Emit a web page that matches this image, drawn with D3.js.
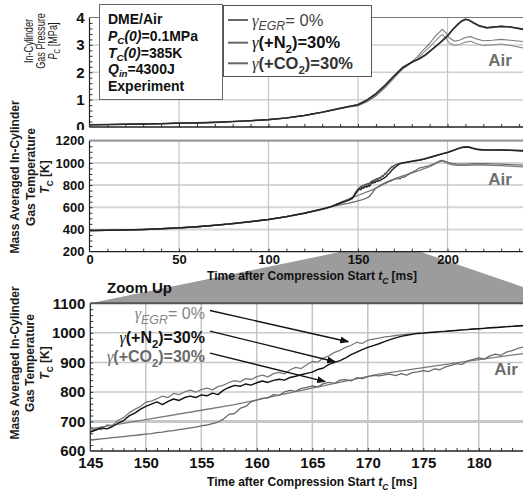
<!DOCTYPE html>
<html>
<head>
<meta charset="utf-8">
<script src="https://cdn.jsdelivr.net/npm/d3@7"></script>
<style>
  body { margin: 0; background: #fff; }
  svg { display: block; }
  text { font-family: "Liberation Sans", Arial, Helvetica, sans-serif; }
</style>
</head>
<body>
<svg id="chart" width="523" height="491"></svg>
<script>
// ---------------------------------------------------------------
// Data: in-cylinder pressure [MPa] and mass-averaged temperature [K]
// versus time after compression start [ms], DME/Air, three EGR cases
// plus the plain-air reference.
// ---------------------------------------------------------------

// Pressure, shared compression part (all cases coincide)
const pressureCommon = [[0,0.08],[10,0.09],[20,0.10],[30,0.11],[40,0.12],[50,0.14],[60,0.15],[70,0.17],
  [80,0.20],[90,0.23],[100,0.27],[110,0.33],[120,0.42],[130,0.54],[140,0.68]];
const pressureEgr0 = [[145,0.75],[150,0.82],[155,0.99],[160,1.22],[165,1.52],[170,1.86],[175,2.18],[180,2.36],
  [184,2.48],[188,2.64],[192,2.86],[196,3.08],[200,3.32],[203,3.56],[206,3.76],[208,3.87],[210,3.93],[212,3.90],
  [215,3.78],[218,3.68],[222,3.62],[226,3.65],[230,3.67],[235,3.65],[243,3.55]];
const pressureN2 = [[145,0.75],[150,0.81],[155,0.98],[160,1.21],[165,1.51],[170,1.85],[175,2.17],[180,2.37],
  [184,2.49],[188,2.66],[192,2.88],[196,3.10],[200,3.34],[203,3.57],[206,3.77],[208,3.88],[210,3.94],[212,3.91],
  [215,3.80],[218,3.70],[222,3.63],[226,3.66],[230,3.68],[235,3.66],[243,3.57]];
const pressureCO2 = [[145,0.74],[150,0.79],[155,0.93],[160,1.15],[165,1.45],[170,1.80],[175,2.14],[179,2.32],
  [183,2.55],[186,2.78],[190,3.05],[193,3.30],[197,3.57],[199,3.45],[201,3.25],[204,3.13],[207,3.18],[210,3.27],
  [213,3.30],[216,3.22],[220,3.15],[225,3.17],[230,3.20],[235,3.17],[243,3.12]];
const pressureAir = [[145,0.73],[150,0.78],[155,0.92],[160,1.13],[165,1.43],[170,1.78],[175,2.12],[179,2.30],
  [183,2.48],[186,2.68],[190,2.93],[193,3.13],[197,3.38],[199,3.25],[201,3.07],[204,2.98],[207,3.02],[210,3.10],
  [213,3.13],[216,3.05],[220,2.98],[225,3.00],[230,3.03],[235,2.98],[243,2.88]];

// Temperature, shared compression part
const tempCommon = [[0,390],[10,392],[20,395],[30,399],[40,406],[50,414],[60,424],[70,437],[80,452],
  [90,470],[100,490],[110,515],[120,546],[130,583],[135,605]];

// Temperature around ignition, fine resolution (140 ... 184 ms)
const zoomTimes = [140,
  145,145.5,146,146.5,147,147.5,148,148.5,149,149.5,
  150,150.5,151,151.5,152,152.5,153,153.5,154,154.5,
  155,155.5,156,156.5,157,157.5,158,158.5,159,159.5,
  160,160.5,161,161.5,162,162.5,163,163.5,164,164.5,
  165,165.5,166,166.5,167,167.5,168,168.5,169,169.5,
  170,170.5,171,171.5,172,172.5,173,173.5,174,174.5,
  175,175.5,176,176.5,177,177.5,178,178.5,179,179.5,
  180,180.5,181,181.5,182,182.5,183,183.5,184];
const zoomEgr0 = [638,
  668,675,672,688,686,704,713,729,741,750,
  765,769,777,786,781,795,791,800,806,799,
  808,813,807,818,823,832,838,834,845,842,
  852,857,851,862,866,861,875,883,879,892,
  903,901,915,922,934,941,951,958,968,964,
  975,979,982,986,988,991,993,995,997,999,
  1000,1001,1003,1004,1006,1007,1009,1010,1012,1013,
  1014,1016,1017,1018,1020,1021,1022,1024,1025];
const zoomN2 = [636,
  664,671,678,675,683,694,703,719,728,741,
  751,759,766,757,768,776,771,781,786,781,
  790,787,796,791,806,815,822,819,827,823,
  831,837,832,839,843,840,849,853,858,863,
  867,876,881,893,900,906,915,926,935,943,
  951,957,963,970,977,983,988,992,995,998,
  999,1001,1002,1004,1005,1007,1008,1010,1011,1013,
  1014,1015,1017,1018,1019,1021,1022,1023,1024];
const zoomCO2 = [621,
  637,639,641,643,645,647,649,651,653,655,
  657,659,662,664,667,669,672,675,678,681,
  685,688,693,698,708,724,727,744,751,767,
  772,778,780,791,788,800,805,802,812,815,
  820,817,828,832,829,840,842,837,848,845,
  852,856,854,858,860,855,862,857,865,868,
  872,869,878,875,885,890,896,893,905,910,
  915,911,922,928,924,935,940,947,952];
// Plain air reference is smooth: sparse points suffice
const zoomAir = [[140,643],[145,675],[150,706],[155,738],[158,757],[160,773],[165,813],[171,860],
  [175,882],[180,909],[184,930]];

// Temperature after the zoomed window
const tempLateEgr0 = [[184,1025],[187,1036],[190,1050],[193,1064],[196,1078],[200,1095],[203,1112],[206,1130],
  [208,1140],[210,1146],[212,1143],[214,1133],[217,1122],[220,1119],[225,1118],[230,1119],[235,1116],[243,1110]];
const tempLateN2 = [[184,1024],[187,1034],[190,1048],[193,1062],[196,1077],[200,1093],[203,1110],[206,1128],
  [208,1138],[210,1143],[212,1141],[214,1131],[217,1120],[220,1116],[225,1115],[230,1116],[235,1113],[243,1107]];
const tempLateCO2 = [[184,952],[187,963],[190,976],[193,996],[196,1020],[197,1022],[199,1012],[202,996],
  [205,990],[210,989],[215,992],[220,994],[225,991],[230,989],[235,985],[243,980]];
const tempLateAir = [[184,930],[187,948],[190,967],[193,990],[196,1014],[197,1017],[199,1004],[202,985],
  [205,978],[210,977],[215,979],[220,981],[225,978],[230,975],[235,971],[243,964]];

// Axis ticks
const timeTicksFull = [0, 50, 100, 150, 200];
const timeTicksZoom = [145, 150, 155, 160, 165, 170, 175, 180];
const pressureTicks = [0, 1, 2, 3, 4];
const tempTicksFull = [200, 400, 600, 800, 1000, 1200];
const tempTicksZoom = [600, 700, 800, 900, 1000, 1100];
const zoomWindow = [141, 184.5];

// ---------------------------------------------------------------
const svg = d3.select("#chart");
const SERIF = '"Liberation Serif", "Times New Roman", serif';

const pairs = (ts, vs) => ts.map((t, i) => [t, vs[i]]);
const tempZoom = {
  egr0: pairs(zoomTimes, zoomEgr0),
  n2: pairs(zoomTimes, zoomN2),
  co2: pairs(zoomTimes, zoomCO2),
  air: zoomAir
};
const tempFull = {
  egr0: tempCommon.concat(tempZoom.egr0, tempLateEgr0.slice(1)),
  n2: tempCommon.concat(tempZoom.n2, tempLateN2.slice(1)),
  co2: tempCommon.concat(tempZoom.co2, tempLateCO2.slice(1)),
  air: tempCommon.concat(tempZoom.air, tempLateAir.slice(1))
};
const pressure = {
  egr0: pressureCommon.concat(pressureEgr0),
  n2: pressureCommon.concat(pressureN2),
  co2: pressureCommon.concat(pressureCO2),
  air: pressureCommon.concat(pressureAir)
};

// Scales
const xFull = d3.scaleLinear().domain([0, 243]).range([89.5, 524.5]);
const yP = d3.scaleLinear().domain([0, 4]).range([127, 17.5]);
const yT = d3.scaleLinear().domain([200, 1200]).range([251.6, 140.7]);
const xZ = d3.scaleLinear().domain([145, 184]).range([90.3, 523.2]);
const yZ = d3.scaleLinear().domain([600, 1100]).range([451, 303.3]);

// Rich text helper: parts = [{t, it, serif, sub, w}]
function rich(sel, parts, size, subShift) {
  let shift = 0;
  parts.forEach(p => {
    const ts = sel.append("tspan").text(p.t);
    const target = p.sub ? size * (subShift || 0.3) : 0;
    if (target !== shift) ts.attr("dy", target - shift);
    shift = target;
    if (p.sub) ts.attr("font-size", size * (p.subScale || 0.7));
    if (p.it) ts.attr("font-style", "italic");
    if (p.serif) ts.attr("font-family", SERIF).attr("font-weight", "normal");
    if (p.w) ts.attr("font-weight", p.w);
  });
  return sel;
}

// Generic panel frame: grid, axes, minor ticks
function frame(opt) {
  const g = svg.append("g");
  const [x0, x1] = opt.x.range();
  const [yb, yt] = opt.y.range();
  g.append("rect").attr("x", x0).attr("y", yt).attr("width", x1 - x0).attr("height", yb - yt).attr("fill", "#fff");
  // horizontal grid
  g.selectAll(".hg").data(opt.yTicks.slice(1, -1)).join("line")
    .attr("x1", x0).attr("x2", x1).attr("y1", d => opt.y(d)).attr("y2", d => opt.y(d))
    .attr("stroke", opt.hgColor || "#cfcfcf").attr("stroke-width", d => (opt.hgWidth ? opt.hgWidth(d) : 1.5));
  // vertical grid
  g.selectAll(".vg").data(opt.xGrid).join("line")
    .attr("x1", d => opt.x(d)).attr("x2", d => opt.x(d)).attr("y1", yt).attr("y2", yb)
    .attr("stroke", "#c4c4c4").attr("stroke-width", opt.vgWidth || 1.2);
  // top border
  g.append("line").attr("x1", x0).attr("x2", x1).attr("y1", yt).attr("y2", yt)
    .attr("stroke", opt.topColor || "#888").attr("stroke-width", opt.topWidth || 1.2);
  // minor ticks along bottom
  g.append("g").attr("transform", `translate(0,${yb})`)
    .call(d3.axisBottom(opt.x).tickValues(opt.xMinor).tickSize(-3).tickFormat(""))
    .call(s => s.select(".domain").remove())
    .selectAll("line").attr("stroke", "#333");
  // minor ticks along left
  g.append("g").attr("transform", `translate(${x0},0)`)
    .call(d3.axisLeft(opt.y).tickValues(opt.yMinor).tickSize(-3).tickFormat(""))
    .call(s => s.select(".domain").remove())
    .selectAll("line").attr("stroke", "#333");
  // axis lines
  g.append("line").attr("x1", x0).attr("x2", x0).attr("y1", yt).attr("y2", yb).attr("stroke", "#222").attr("stroke-width", 1.2);
  g.append("line").attr("x1", x0).attr("x2", x1).attr("y1", yb).attr("y2", yb).attr("stroke", "#222").attr("stroke-width", 1.4);
  // y tick labels
  const yl = g.append("g").attr("transform", `translate(${x0},0)`);
  if (opt.labelClip) yl.attr("clip-path", opt.labelClip);
  yl.call(d3.axisLeft(opt.y).tickValues(opt.yTicks).tickSize(0).tickPadding(opt.yPad || 5).tickFormat(d3.format("d")))
    .call(s => s.select(".domain").remove())
    .selectAll("text").attr("font-family", '"Liberation Sans", Arial, sans-serif')
    .attr("font-weight", "bold").attr("font-size", opt.yFont).attr("fill", "#111");
  // x tick labels
  if (opt.xTicks) {
    g.append("g").attr("transform", `translate(0,${yb})`)
      .call(d3.axisBottom(opt.x).tickValues(opt.xTicks).tickSize(0).tickPadding(opt.xPad || 4).tickFormat(d3.format("d")))
      .call(s => s.select(".domain").remove())
      .selectAll("text").attr("font-family", '"Liberation Sans", Arial, sans-serif')
      .attr("font-weight", "bold").attr("font-size", opt.xFont).attr("fill", "#111");
  }
  return g;
}

function clipFor(id, x, y) {
  const [x0, x1] = x.range(), [yb, yt] = y.range();
  svg.append("clipPath").attr("id", id).append("rect")
    .attr("x", x0).attr("y", yt - 1).attr("width", x1 - x0).attr("height", yb - yt + 1);
  return `url(#${id})`;
}

function drawLines(x, y, data, styles, clip) {
  const line = d3.line().x(d => x(d[0])).y(d => y(d[1]));
  const g = svg.append("g").attr("clip-path", clip);
  styles.forEach(s => {
    g.append("path").datum(data[s.key]).attr("d", line)
      .attr("fill", "none").attr("stroke", s.color).attr("stroke-width", s.width)
      .attr("stroke-linejoin", "round");
  });
}

function yTitle(cy, lines, size, weight, squeeze) {
  lines.forEach(l => {
    const t = svg.append("text")
      .attr("transform", `translate(${l.x},${cy}) rotate(-90) scale(${squeeze || 1},1)`)
      .attr("text-anchor", "middle").attr("dy", "0.35em")
      .attr("font-size", size).attr("font-weight", weight).attr("fill", "#1a1a1a");
    rich(t, l.parts, size);
  });
}

// ---------------- Top panel: pressure ----------------
// the "0" label of the pressure axis is tucked under the panel below
svg.append("clipPath").attr("id", "clipPLabels").append("rect")
  .attr("x", -100).attr("y", 0).attr("width", 200).attr("height", 130);
frame({
  x: xFull, y: yP, yTicks: pressureTicks, xGrid: [50, 100, 150, 200],
  xMinor: d3.range(10, 243, 10), yMinor: d3.range(0.2, 4, 0.2),
  yFont: 15, topColor: "#777", topWidth: 1, labelClip: "url(#clipPLabels)"
});
drawLines(xFull, yP, pressure, [
  { key: "air", color: "#8a8a8a", width: 1.1 },
  { key: "co2", color: "#7a7a7a", width: 1.1 },
  { key: "egr0", color: "#4a4a4a", width: 1.6 },
  { key: "n2", color: "#2a2a2a", width: 1.3 }
], clipFor("clipP", xFull, yP));

// ---------------- Middle panel: temperature ----------------
// zoom-up wedge (drawn under the middle panel axis labels)
const wedge = [
  [xFull(zoomWindow[0]), yT(200)], [xFull(zoomWindow[1]), yT(200)],
  [571, yZ(1100)], [xZ(145), yZ(1100)]
];
svg.append("path").attr("d", "M" + wedge.map(p => p.join(",")).join("L") + "Z").attr("fill", "#9c9c9c");

frame({
  x: xFull, y: yT, yTicks: tempTicksFull, xTicks: timeTicksFull, xGrid: [50, 100, 150, 200],
  xMinor: d3.range(10, 243, 10), yMinor: d3.range(250, 1200, 50),
  yFont: 13, xFont: 13, xPad: 3, topColor: "#9a9a9a", topWidth: 2.2, hgColor: "#d6d6d6", hgWidth: () => 2
});
drawLines(xFull, yT, tempFull, [
  { key: "air", color: "#7c7c7c", width: 1.3 },
  { key: "co2", color: "#6c6c6c", width: 1.3 },
  { key: "egr0", color: "#555", width: 1.6 },
  { key: "n2", color: "#222", width: 1.4 }
], clipFor("clipT", xFull, yT));

// x title (middle)
rich(svg.append("text").attr("x", 312).attr("y", 280).attr("text-anchor", "middle")
  .attr("font-size", 12).attr("font-weight", "bold").attr("fill", "#111"),
  [{ t: "Time after Compression Start " }, { t: "t", it: true }, { t: "C", sub: true, it: true }, { t: " [ms]" }], 12);

svg.append("text").attr("x", 107).attr("y", 293).attr("font-size", 15).attr("font-weight", "bold")
  .attr("fill", "#111").text("Zoom Up");

// ---------------- Bottom panel: zoomed temperature ----------------
frame({
  x: xZ, y: yZ, yTicks: tempTicksZoom, xTicks: timeTicksZoom, xGrid: [150, 155, 160, 165, 170, 175, 180],
  xMinor: d3.range(146, 185, 1), yMinor: d3.range(620, 1100, 20),
  yFont: 15, xFont: 15, xPad: 6.5, topColor: "#555", topWidth: 2, vgWidth: 1.5,
  hgColor: "#c8c8c8", hgWidth: d => (d === 700 ? 3 : 1.5)
});
drawLines(xZ, yZ, tempZoom, [
  { key: "air", color: "#7a7a7a", width: 1.3 },
  { key: "co2", color: "#6a6a6a", width: 1.3 },
  { key: "egr0", color: "#7a7a7a", width: 1.3 },
  { key: "n2", color: "#111", width: 1.4 }
], clipFor("clipZ", xZ, yZ));

rich(svg.append("text").attr("x", 312).attr("y", 486).attr("text-anchor", "middle")
  .attr("font-size", 12).attr("font-weight", "bold").attr("fill", "#111"),
  [{ t: "Time after Compression Start " }, { t: "t", it: true }, { t: "C", sub: true, it: true }, { t: " [ms]" }], 12);

// Annotations with arrows
svg.append("defs").append("marker").attr("id", "arrow").attr("markerUnits", "userSpaceOnUse")
  .attr("markerWidth", 9).attr("markerHeight", 7).attr("refX", 8).attr("refY", 3.5).attr("orient", "auto")
  .append("path").attr("d", "M0,0L9,3.5L0,7Z").attr("fill", "#111");

const notes = [
  { at: [155.33, 1046.8], from: [155.78, 1075.6], to: [168.24, 970], color: "#858585",
    parts: [{ t: "γ", serif: true, it: true }, { t: "EGR", sub: true, it: true, w: "normal", subScale: 0.78 }, { t: "= 0%", w: "normal" }] },
  { at: [155.33, 966.4], from: [155.78, 1006], to: [167.05, 902], color: "#111",
    parts: [{ t: "γ", serif: true, it: true }, { t: "(+N" }, { t: "2", sub: true }, { t: ")=30%" }] },
  { at: [155.33, 902], from: [155.78, 931.5], to: [166.15, 835], color: "#6a6a6a",
    parts: [{ t: "γ", serif: true, it: true }, { t: "(+CO" }, { t: "2", sub: true }, { t: ")=30%" }] }
];
notes.forEach(n => {
  rich(svg.append("text").attr("x", xZ(n.at[0])).attr("y", yZ(n.at[1])).attr("text-anchor", "end")
    .attr("font-size", 16).attr("font-weight", "bold").attr("fill", n.color), n.parts, 16);
  svg.append("line").attr("x1", xZ(n.from[0])).attr("y1", yZ(n.from[1]))
    .attr("x2", xZ(n.to[0])).attr("y2", yZ(n.to[1]))
    .attr("stroke", "#111").attr("stroke-width", 1.4).attr("marker-end", "url(#arrow)");
});

// "Air" labels
[[xFull, yP, 229.3, 2.23], [xFull, yT, 229.3, 800], [xZ, yZ, 182.45, 857]].forEach(([x, y, t, v]) => {
  svg.append("text").attr("x", x(t)).attr("y", y(v)).attr("text-anchor", "middle")
    .attr("font-size", 17).attr("fill", "#6e6e6e").attr("font-weight", "bold").text("Air");
});

// Y titles
yTitle(41, [
  { x: 28, parts: [{ t: "In-Cylinder" }] },
  { x: 40, parts: [{ t: "Gas Pressure" }] },
  { x: 52, parts: [{ t: "P", it: true }, { t: "C", sub: true }, { t: " [MPa]" }] }
], 13, "normal", 0.7);
yTitle(177, [
  { x: 15, parts: [{ t: "Mass Averaged In-Cylinder" }] },
  { x: 31, parts: [{ t: "Gas Temperature" }] },
  { x: 45, parts: [{ t: "T", it: true }, { t: "C", sub: true }, { t: " [K]" }] }
], 12, "bold");
yTitle(363, [
  { x: 15, parts: [{ t: "Mass Averaged In-Cylinder" }] },
  { x: 30, parts: [{ t: "Gas Temperature" }] },
  { x: 45, parts: [{ t: "T", it: true }, { t: "C", sub: true }, { t: " [K]" }] }
], 12, "bold");

// ---------------- Condition box and legend ----------------
svg.append("rect").attr("x", 99.5).attr("y", 4.5).attr("width", 123).attr("height", 95)
  .attr("fill", "#fff").attr("stroke", "#666").attr("stroke-width", 1);
const condLines = [
  [{ t: "DME/Air" }],
  [{ t: "P", it: true }, { t: "C", sub: true, it: true }, { t: "(0)", it: true }, { t: "=0.1MPa" }],
  [{ t: "T", it: true }, { t: "C", sub: true, it: true }, { t: "(0)", it: true }, { t: "=385K" }],
  [{ t: "Q", it: true }, { t: "in", sub: true, it: true }, { t: "=4300J" }],
  [{ t: "Experiment" }]
];
condLines.forEach((parts, i) => {
  rich(svg.append("text").attr("x", 108).attr("y", 24 + i * 16.75)
    .attr("font-size", 14).attr("font-weight", "bold").attr("fill", "#111"), parts, 14, 0.22);
});

svg.append("rect").attr("x", 223.5).attr("y", 5.5).attr("width", 148).attr("height", 71)
  .attr("fill", "#fff").attr("stroke", "#555").attr("stroke-width", 1);
const legendItems = [
  { color: "#444", parts: [{ t: "γ", serif: true, it: true }, { t: "EGR", sub: true, it: true, w: "normal", subScale: 0.75 }, { t: "= 0%", w: "normal" }] },
  { color: "#111", parts: [{ t: "γ", serif: true, it: true }, { t: "(+N" }, { t: "2", sub: true }, { t: ")=30%" }] },
  { color: "#333", parts: [{ t: "γ", serif: true, it: true }, { t: "(+CO" }, { t: "2", sub: true }, { t: ")=30%" }] }
];
legendItems.forEach((item, i) => {
  const cy = [20, 42.7, 63.3][i];
  svg.append("line").attr("x1", 228).attr("x2", 248).attr("y1", cy).attr("y2", cy)
    .attr("stroke", "#666").attr("stroke-width", 2);
  rich(svg.append("text").attr("x", 252).attr("y", cy + 5.5)
    .attr("font-size", 16.5).attr("font-weight", "bold").attr("fill", item.color), item.parts, 16.5);
});
</script>
</body>
</html>
